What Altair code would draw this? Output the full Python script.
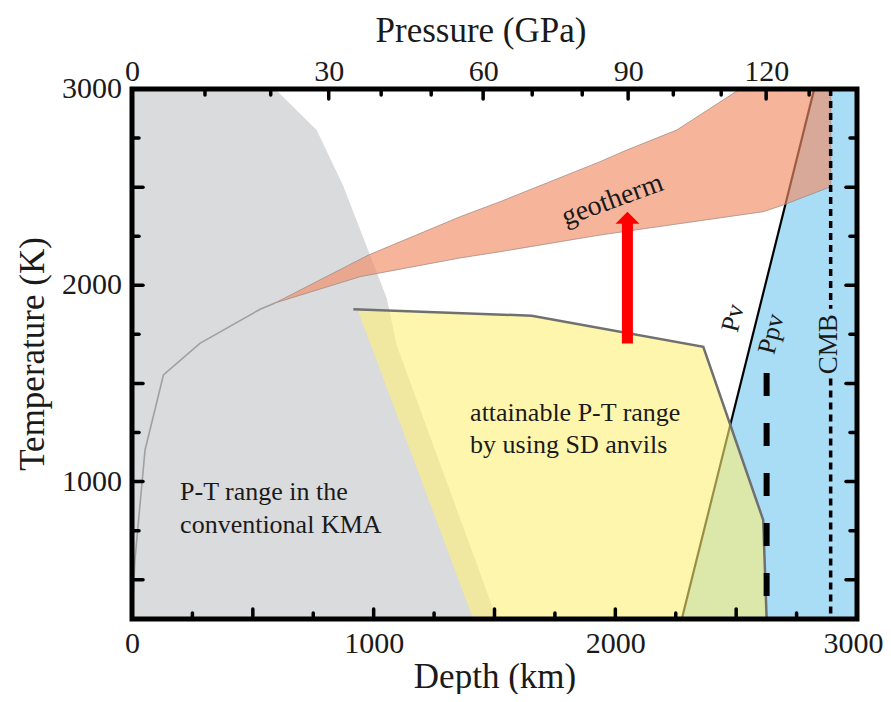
import json
import altair as alt
import pandas as pd

# ---------------- axis / tick values ----------------
depth_label_values = [0, 1000, 2000, 3000]
temp_label_values = [1000, 2000, 3000]
pressure_labels = ["0", "30", "60", "90", "120"]
pressure_label_depths = [0, 814, 1453, 2053, 2624]
pressure_major_depths = [814, 1453, 2053, 2624]
pressure_minor_depths = [302, 574, 1031, 1238, 1656, 1863, 2240, 2438, 2802]
depth_ticks_long = [500, 1000, 1500, 2000, 2500]
depth_ticks_short = [250, 750, 1250, 1750, 2250, 2750]
temp_ticks_long = [500, 1000, 1500, 2000, 2500]
temp_ticks_short = [750, 1250, 1750, 2250, 2750]

# ---------------- regions (depth km, temperature K) ----------------
kma_depth = [0, 0, 592, 764, 873, 964, 1054, 1095, 1510]
kma_temp = [300, 3000, 3000, 2791, 2510, 2220, 1935, 1696, 300]

ppv_depth = [2275, 2823, 3000, 3000]
ppv_temp = [300, 3000, 3000, 300]

sd_depth = [935, 1654, 2364, 2612, 2626, 1412]
sd_temp = [1872, 1845, 1687, 804, 300, 300]
sd_edge_depth = [916, 1654, 2364, 2612, 2626]
sd_edge_temp = [1878, 1845, 1687, 804, 300]

geo_line_depth = [0, 12, 54, 130, 281, 530, 592]
geo_line_temp = [300, 600, 1161, 1543, 1704, 1878, 1910]

geo_upper_depth = [592, 978, 1357, 1523, 1937, 2047, 2254, 2516, 2891]
geo_upper_temp = [1910, 2154, 2349, 2426, 2630, 2689, 2791, 3000, 3000]
geo_lower_depth = [592, 944, 1357, 1523, 1937, 2612, 2695, 2891]
geo_lower_temp = [1910, 2044, 2139, 2171, 2256, 2375, 2409, 2502]

pv_depth = [2275, 2823]
pv_temp = [300, 3000]
ppv_dash_depth = [2626, 2626]
ppv_dash_temp = [1553, 300]
cmb_upper_depth = [2891, 2891]
cmb_upper_temp = [3000, 1880]
cmb_lower_depth = [2891, 2891]
cmb_lower_temp = [1525, 300]

arrow_depth = [2050]
arrow_base = [1704]
arrow_neck = [2322]
arrow_tip = [2375]

left_text = ["P-T range in the", "conventional KMA", "attainable P-T range", "by using SD anvils"]
left_text_depth = [199, 199, 1399, 1399]
left_text_temp = [948, 779, 1348, 1184]

rot_text = ["geotherm", "Pv", "Ppv", "CMB"]
rot_text_depth = [1988, 2487, 2645, 2884]
rot_text_temp = [2434, 1833, 1752, 1700]
rot_text_angle = [340, 284, 284, 270]
rot_text_size = [28, 26, 26, 27]

# ---------------- helpers ----------------
W, H = 725, 530
FONT = "Liberation Serif"
INK = "#1a1a1a"
XS = alt.Scale(domain=[0, 3000], nice=False, zero=False)
YS = alt.Scale(domain=[300, 3000], nice=False, zero=False)


def X(field="depth", axis=None):
    return alt.X(f"{field}:Q", scale=XS, axis=axis)


def Y(field="temp", axis=None):
    return alt.Y(f"{field}:Q", scale=YS, axis=axis)


def frame_df(depths, temps):
    return pd.DataFrame({"depth": depths, "temp": temps, "i": list(range(len(depths)))})


def polygon(depths, temps, color, opacity=1.0, xaxis=None, **kw):
    df = frame_df(depths, temps)
    mk = dict(fill=color, fillOpacity=opacity, stroke=color, strokeOpacity=0, strokeWidth=0, clip=True)
    mk.update(kw)
    return alt.Chart(df).mark_line(**mk).encode(
        x=X(axis=xaxis), y=Y(), order=alt.Order("i:Q")
    )


def path(depths, temps, color, width, **kw):
    df = frame_df(depths, temps)
    return alt.Chart(df).mark_line(color=color, strokeWidth=width, clip=True, **kw).encode(
        x=X(), y=Y(), order=alt.Order("i:Q")
    )


def xticks(depths, length, side, axis=None):
    df = pd.DataFrame({"depth": depths})
    if side == "bottom":
        ya, yb = alt.value(H), alt.value(H - length)
    else:
        ya, yb = alt.value(0), alt.value(length)
    return alt.Chart(df).mark_rule(color="black", strokeWidth=3.5, strokeCap="round").encode(
        x=X(axis=axis), y=ya, y2=yb
    )


def yticks(temps, length, side):
    df = pd.DataFrame({"temp": temps})
    if side == "left":
        xa, xb = alt.value(0), alt.value(length)
    else:
        xa, xb = alt.value(W), alt.value(W - length)
    return alt.Chart(df).mark_rule(color="black", strokeWidth=3.5, strokeCap="round").encode(
        y=Y(), x=xa, x2=xb
    )


# ---------------- axes ----------------
bottom_axis = alt.Axis(
    values=depth_label_values, title="Depth (km)", orient="bottom", labelFlush=False,
    labelPadding=9, titlePadding=1, format="d", labelOverlap=False,
    labelOffset={"condition": {"test": "datum.value == 3000", "value": -4}, "value": 0},
)
label_expr = "{}[indexof({}, datum.value)]".format(json.dumps(pressure_labels), json.dumps(pressure_label_depths))
top_axis = alt.Axis(
    values=pressure_label_depths, title=None, orient="top", labelFlush=False,
    labelPadding=3, labelExpr=label_expr, labelOverlap=False,
)

# ---------------- layers ----------------
gray = polygon(kma_depth, kma_temp, "#dadbdd", xaxis=bottom_axis)
blue = polygon(ppv_depth, ppv_temp, "#a9dcf5")
pv_line = path(pv_depth, pv_temp, "black", 2.2)
yellow = polygon(sd_depth, sd_temp, "#fff078", 0.6)
yellow_edge = path(sd_edge_depth, sd_edge_temp, "#707070", 2.5)
geo_line = path(geo_line_depth, geo_line_temp, "#a0a0a0", 1.6)
band = polygon(
    geo_upper_depth + geo_lower_depth[::-1], geo_upper_temp + geo_lower_temp[::-1],
    "#f18c65", 0.65, stroke="#9a8580", strokeOpacity=0.7, strokeWidth=1,
)
ppv_dash = path(ppv_dash_depth, ppv_dash_temp, "black", 6, strokeDash=[23, 27])
cmb_a = path(cmb_upper_depth, cmb_upper_temp, "black", 3.5, strokeDash=[7, 5])
cmb_b = path(cmb_lower_depth, cmb_lower_temp, "black", 3.5, strokeDash=[7, 5])

arrow_df = pd.DataFrame({"depth": arrow_depth, "base": arrow_base, "neck": arrow_neck, "tip": arrow_tip})
shaft = alt.Chart(arrow_df).mark_rule(color="#ff0000", strokeWidth=11).encode(
    x=X(), y=Y("base"), y2="neck:Q"
)
head = alt.Chart(arrow_df).mark_point(
    shape="M 0 0 L 1 1 L -1 1 Z", size=576, filled=True, color="#ff0000", opacity=1
).encode(x=X(), y=Y("tip"))

ltxt = alt.Chart(pd.DataFrame({"depth": left_text_depth, "temp": left_text_temp, "t": left_text})).mark_text(
    font=FONT, fontSize=26, align="left", baseline="middle", color=INK
).encode(x=X(), y=Y(), text="t:N")

rtxt = alt.Chart(pd.DataFrame({
    "depth": rot_text_depth, "temp": rot_text_temp, "t": rot_text, "a": rot_text_angle, "s": rot_text_size
})).mark_text(
    font=FONT, align="center", baseline="middle", color=INK
).encode(
    x=X(), y=Y(), text="t:N", angle=alt.Angle("a:Q", scale=None), size=alt.Size("s:Q", scale=None)
)

one = pd.DataFrame({"k": [0]})
frame = alt.Chart(one).mark_rect(fillOpacity=0, stroke="black", strokeWidth=5).encode(
    x=alt.value(0), x2=alt.value(W), y=alt.value(0), y2=alt.value(H)
)

# y tick labels, placed through the y scale
ylabels = alt.Chart(pd.DataFrame({"temp": temp_label_values})).mark_text(
    font=FONT, fontSize=30, align="right", baseline="middle", color=INK
).encode(x=alt.value(-10), y=Y(), text=alt.Text("temp:Q", format="d"))

# axis titles placed as text
temp_title = alt.Chart(one).mark_text(
    text="Temperature (K)", font=FONT, fontSize=35, angle=270, align="center", baseline="middle", color=INK
).encode(x=alt.value(-99), y=alt.value(H / 2))
pres_title = alt.Chart(one).mark_text(
    text="Pressure (GPa)", font=FONT, fontSize=35, align="center", baseline="middle", color=INK
).encode(x=alt.value(349), y=alt.value(-58))

layers = [
    gray, blue, pv_line, yellow, yellow_edge, geo_line, band, ppv_dash, cmb_a, cmb_b, shaft, head, ltxt, rtxt,
    xticks(depth_ticks_long, 10, "bottom"), xticks(depth_ticks_short, 6, "bottom"),
    xticks(pressure_major_depths, 10, "top", axis=top_axis), xticks(pressure_minor_depths, 6, "top"),
    yticks(temp_ticks_long, 11, "left"), yticks(temp_ticks_short, 7, "left"),
    yticks(temp_ticks_long, 11, "right"), yticks(temp_ticks_short, 7, "right"),
    frame, ylabels, temp_title, pres_title,
]

chart = (
    alt.layer(*layers)
    .resolve_axis(x="independent")
    .properties(
        width=W, height=H,
        padding={"left": 124, "top": 81, "right": 26, "bottom": 75},
        autosize=alt.AutoSizeParams(type="none"),
    )
    .configure_axis(
        labelFont=FONT, titleFont=FONT, labelFontSize=30, titleFontSize=35,
        titleFontWeight="normal", labelColor=INK, titleColor=INK,
        domain=False, ticks=False, grid=False,
    )
    .configure_view(strokeWidth=0)
)

chart.save("out.html", embed_options={"renderer": "svg", "actions": False})
